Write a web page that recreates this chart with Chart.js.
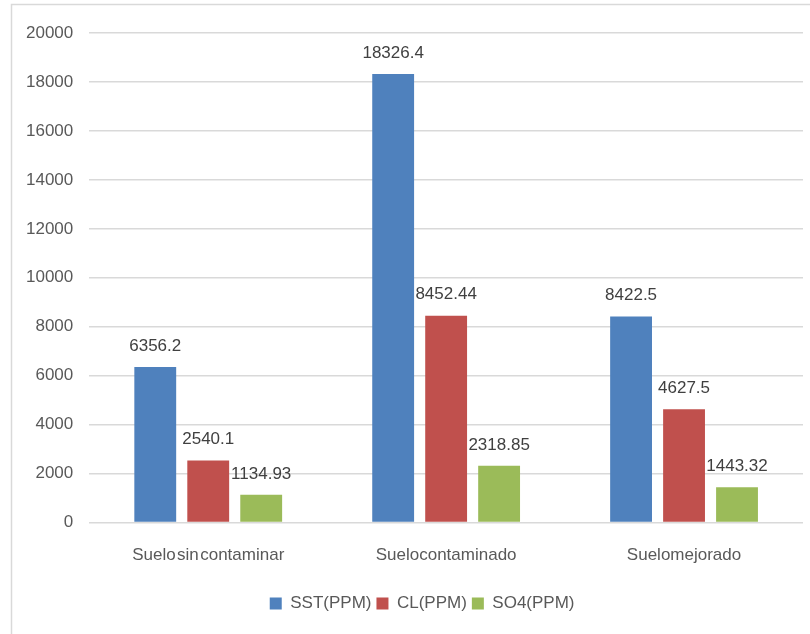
<!DOCTYPE html>
<html>
<head>
<meta charset="utf-8">
<script src="https://cdn.jsdelivr.net/npm/chart.js@4"></script>
<style>
  html, body { margin: 0; padding: 0; background: #ffffff; }
  #wrap { width: 810px; height: 634px; }
</style>
</head>
<body>
<div id="wrap"><canvas id="c" width="810" height="634"></canvas></div>
<script>
// Soil samples and measured concentrations (ppm)
const categories = ['Suelo\u200Asin\u200Acontaminar', 'Suelocontaminado', 'Suelomejorado'];
const sst = [6356.2, 18326.4, 8422.5];
const cl = [2540.1, 8452.44, 4627.5];
const so4 = [1134.93, 2318.85, 1443.32];
const seriesNames = ['SST(PPM)', 'CL(PPM)', 'SO4(PPM)'];
const seriesColors = ['#4F81BD', '#C0504D', '#9BBB59'];

const FONT = "'Liberation Sans', Arial, sans-serif";
const FONT_SIZE = 17;

// White page with a thin grey frame
const framePlugin = {
  id: 'frame',
  beforeDraw(chart) {
    const ctx = chart.ctx;
    ctx.save();
    ctx.fillStyle = '#ffffff';
    ctx.fillRect(0, 0, chart.width, chart.height);
    ctx.strokeStyle = '#d9d9d9';
    ctx.lineWidth = 1.5;
    ctx.strokeRect(11.5, 4.5, 900, 700);
    ctx.restore();
  }
};

// Center the legend under the plot area rather than the whole canvas
const legendShift = {
  id: 'legendShift',
  afterLayout(chart) {
    const lg = chart.legend;
    if (!lg) return;
    const area = chart.chartArea;
    const dx = (area.left + area.right) / 2 - (lg.left + lg.right) / 2 - 24;
    lg.left += dx;
    lg.right += dx;
  }
};

// Value written above each bar
const valueLabels = {
  id: 'valueLabels',
  afterDatasetsDraw(chart) {
    const ctx = chart.ctx;
    ctx.save();
    ctx.font = FONT_SIZE + 'px ' + FONT;
    ctx.fillStyle = '#404040';
    ctx.textAlign = 'center';
    ctx.textBaseline = 'middle';
    chart.data.datasets.forEach((ds, i) => {
      const meta = chart.getDatasetMeta(i);
      meta.data.forEach((bar, j) => {
        ctx.fillText(String(ds.data[j]), bar.x, bar.y - 21);
      });
    });
    ctx.restore();
  }
};

const datasets = [sst, cl, so4].map((values, i) => ({
  label: seriesNames[i],
  data: values,
  backgroundColor: seriesColors[i],
  borderWidth: 0,
  categoryPercentage: 0.668,
  barPercentage: 0.79
}));

new Chart(document.getElementById('c'), {
  type: 'bar',
  data: { labels: categories, datasets },
  options: {
    responsive: false,
    animation: false,
    devicePixelRatio: 1,
    layout: { padding: { top: 33, right: 7, bottom: 12, left: 10 } },
    scales: {
      x: {
        grid: { display: false, drawTicks: false },
        border: { display: false },
        ticks: { color: '#595959', font: { family: FONT, size: FONT_SIZE }, padding: 23 },
        afterFit(scale) { scale.height += 1; }
      },
      y: {
        min: 0,
        max: 20000,
        ticks: {
          stepSize: 2000,
          color: '#595959',
          font: { family: FONT, size: FONT_SIZE },
          padding: 16,
          callback: (v) => String(v)
        },
        grid: { color: '#d9d9d9', lineWidth: 1.5, drawTicks: false },
        border: { display: false }
      }
    },
    plugins: {
      legend: {
        position: 'bottom',
        labels: {
          boxWidth: 12,
          boxHeight: 12,
          color: '#595959',
          font: { family: FONT, size: FONT_SIZE },
          padding: 5
        }
      },
      tooltip: { enabled: false }
    }
  },
  plugins: [framePlugin, legendShift, valueLabels]
});
</script>
</body>
</html>
